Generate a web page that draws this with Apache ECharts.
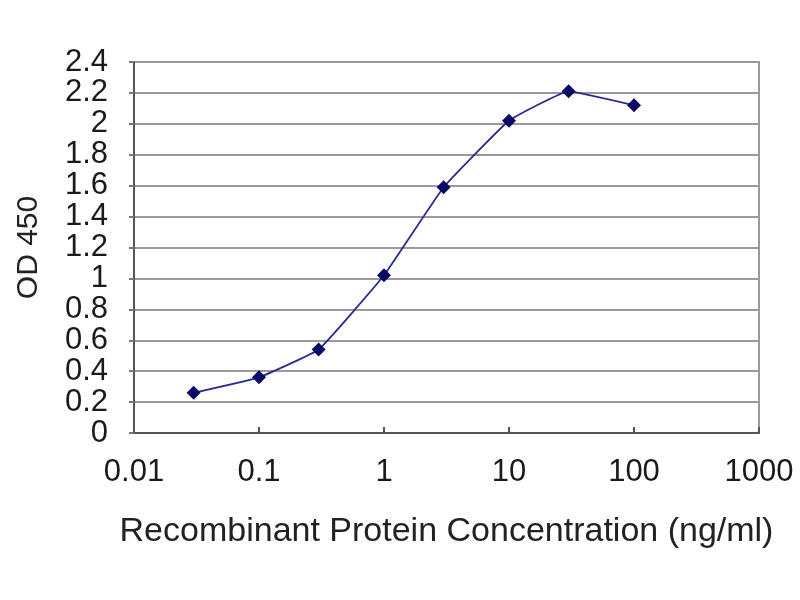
<!DOCTYPE html>
<html>
<head>
<meta charset="utf-8">
<script src="https://cdn.jsdelivr.net/npm/echarts@6/dist/echarts.min.js"></script>
<style>
  html, body { margin: 0; padding: 0; background: #fff; }
  #chart { width: 800px; height: 600px; }
</style>
</head>
<body>
<div id="chart"></div>
<script>
// concentration (ng/ml) and OD 450 readings
const concentrations = [0.03, 0.1, 0.3, 1, 3, 10, 30, 100]
const odValues = [0.26, 0.36, 0.54, 1.02, 1.59, 2.02, 2.21, 2.12]
const xTicks = [0.01, 0.1, 1, 10, 100, 1000]
const yTicks = [0, 0.2, 0.4, 0.6, 0.8, 1, 1.2, 1.4, 1.6, 1.8, 2, 2.2, 2.4]

const points = concentrations.map((c, i) => [c, odValues[i]])

const chart = echarts.init(document.getElementById('chart'))
const font = 'Liberation Sans, Arial, sans-serif'

const option = {
  backgroundColor: '#fff',
  animation: false,
  grid: {
    left: 134, right: 41, top: 62, bottom: 167,
    show: true, borderColor: '#9a9a9a', borderWidth: 2
  },
  xAxis: {
    type: 'log',
    logBase: 10,
    min: xTicks[0],
    max: xTicks[xTicks.length - 1],
    name: 'Recombinant Protein Concentration (ng/ml)',
    nameLocation: 'middle',
    nameGap: 82,
    nameTextStyle: { fontFamily: font, fontSize: 34, color: '#222' },
    axisLine: { lineStyle: { color: '#555', width: 2 } },
    axisTick: { inside: true, length: 6, lineStyle: { color: '#555', width: 2 } },
    axisLabel: {
      fontFamily: font, fontSize: 31, color: '#1a1a1a', margin: 24,
      formatter: v => String(parseFloat(v.toPrecision(6)))
    },
    splitLine: { show: false },
    minorTick: { show: false }
  },
  yAxis: {
    type: 'value',
    min: yTicks[0],
    max: yTicks[yTicks.length - 1],
    interval: 0.2,
    name: 'OD 450',
    nameLocation: 'middle',
    nameGap: 90,
    nameTextStyle: { fontFamily: font, fontSize: 30, color: '#222' },
    axisLine: { show: true, lineStyle: { color: '#555', width: 2 } },
    axisTick: { show: true, length: 5, lineStyle: { color: '#777', width: 2 } },
    axisLabel: {
      fontFamily: font, fontSize: 31, color: '#1a1a1a', margin: 26,
      formatter: v => String(Math.round(v * 10) / 10)
    },
    splitLine: { lineStyle: { color: '#9a9a9a', width: 2 } }
  },
  series: [{
    type: 'line',
    data: points,
    smooth: 0.1,
    symbol: 'diamond',
    symbolSize: 14,
    lineStyle: { color: '#2a2a90', width: 1.8 },
    itemStyle: { color: '#0a0a66' }
  }]
}

chart.setOption(option)
</script>
</body>
</html>
